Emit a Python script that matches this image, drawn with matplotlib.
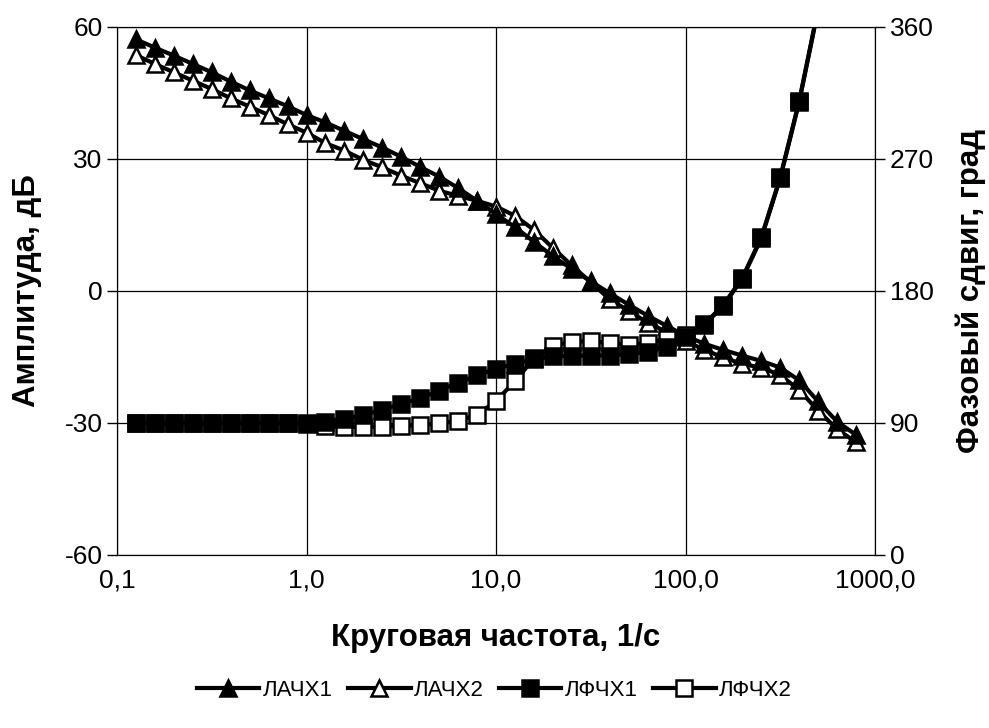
import numpy as np
import matplotlib
matplotlib.use("Agg")
import matplotlib.pyplot as plt
from matplotlib.ticker import FixedLocator, FixedFormatter, NullLocator

plt.rcParams['font.family'] = ['Liberation Sans', 'DejaVu Sans']

# frequencies: 0.1-decade steps from 10^-0.9 to 10^2.9
freq = [0.1259, 0.1585, 0.1995, 0.2512, 0.3162, 0.3981, 0.5012, 0.6310, 0.7943,
        1.0, 1.259, 1.585, 1.995, 2.512, 3.162, 3.981, 5.012, 6.310, 7.943,
        10.0, 12.59, 15.85, 19.95, 25.12, 31.62, 39.81, 50.12, 63.10, 79.43,
        100.0, 125.9, 158.5, 199.5, 251.2, 316.2, 398.1, 501.2, 631.0, 794.3]

lachh1 = [57.2, 55.3, 53.5, 51.6, 49.7, 47.6, 45.6, 43.8, 42.0,
          40.0, 38.3, 36.4, 34.5, 32.6, 30.5, 28.2, 26.0, 23.4, 20.5,
          17.5, 14.5, 11.2, 7.9, 5.0, 2.2, -0.5, -3.1, -5.6, -7.9,
          -10.2, -12.0, -13.4, -14.7, -15.9, -17.4, -20.3, -25.1, -29.7, -32.7]

lachh2 = [53.6, 51.6, 49.7, 47.8, 45.9, 43.8, 41.9, 40.0, 37.9,
          36.0, 33.6, 31.9, 29.8, 28.1, 26.2, 24.5, 22.8, 21.6, 20.5,
          19.2, 17.1, 13.9, 9.8, 5.8, 2.0, -1.9, -4.5, -7.2, -9.3,
          -11.3, -13.4, -15.1, -16.6, -17.4, -19.1, -22.5, -27.2, -31.4, -34.4]

lfchh1 = [90, 90, 90, 90, 90, 90, 90, 90, 90,
          90.2, 91, 93, 95.5, 99, 103, 107, 112, 117.5, 122.5,
          127, 130.5, 133.3, 135.5, 135.8, 136, 136, 136.8, 138.5, 142,
          148.5, 157, 170, 188.5, 216, 257, 309, 372, np.nan, np.nan]

lfchh2 = [90, 90, 90, 90, 90, 90, 90, 90, 90,
          89.3, 88, 87.5, 87.4, 87.6, 88, 88.5, 89.8, 91.5, 95.5,
          105, 118.5, 134, 142.5, 145.5, 145.7, 144.5, 143.5, 144.5, 147.5,
          150, 157.5, 170.5, 189, 216.5, 257.5, 309.5, 372.5, np.nan, np.nan]

xticks = [0.1, 1, 10, 100, 1000]
xtick_labels = ["0,1", "1,0", "10,0", "100,0", "1000,0"]
yticks_left = [-60, -30, 0, 30, 60]
yticks_right = [0, 90, 180, 270, 360]

W, H = 989, 728
fig = plt.figure(figsize=(W / 100, H / 100), dpi=100)
ax = fig.add_axes([117 / W, 1 - 555 / H, 758 / W, 528 / H])
ax2 = ax.twinx()

lw = 3.0
ms_t = 12
ms_s = 11
mew = 1.8
# hollow series drawn first, filled series on top (as in the reference)
l2, = ax.plot(freq, lachh2, color='black', lw=lw, marker='^', ms=ms_t,
              mfc='white', mec='black', mew=mew, label='ЛАЧХ2', zorder=2)
l1, = ax.plot(freq, lachh1, color='black', lw=lw, marker='^', ms=ms_t,
              mfc='black', mec='black', mew=mew, label='ЛАЧХ1', zorder=3)
l4, = ax2.plot(freq, lfchh2, color='black', lw=lw, marker='s', ms=ms_s,
               mfc='white', mec='black', mew=mew, label='ЛФЧХ2', zorder=2)
l3, = ax2.plot(freq, lfchh1, color='black', lw=lw, marker='s', ms=ms_s,
               mfc='black', mec='black', mew=mew, label='ЛФЧХ1', zorder=3)

ax.set_xscale('log')
ax.set_xlim(0.1, 1000)
ax.set_ylim(-60, 60)
ax2.set_ylim(0, 360)

ax.xaxis.set_major_locator(FixedLocator(xticks))
ax.xaxis.set_major_formatter(FixedFormatter(xtick_labels))
ax.xaxis.set_minor_locator(NullLocator())
ax.set_yticks(yticks_left)
ax.set_yticklabels([str(v) for v in yticks_left])
ax2.set_yticks(yticks_right)
ax2.set_yticklabels([str(v) for v in yticks_right])

fs = 19
fl = 22.5
ax.tick_params(axis='both', labelsize=fs, direction='out', length=7, width=1, color='black')
ax2.tick_params(axis='y', labelsize=fs, direction='out', length=7, width=1, color='black')
ax.tick_params(axis='x', length=0, pad=10)

ax.grid(True, which='major', color='black', lw=0.9)
ax.set_axisbelow(True)
for sp in ax.spines.values():
    sp.set_color('black')
for sp in ax2.spines.values():
    sp.set_color('black')

ax.set_xlabel('Круговая частота, 1/с', fontsize=fl, fontweight='bold', labelpad=22)
ax.set_ylabel('Амплитуда, дБ', fontsize=fl, fontweight='bold', labelpad=16)
ax2.set_ylabel('Фазовый сдвиг, град', fontsize=fl, fontweight='bold', rotation=90, labelpad=16)

fig.legend(handles=[l1, l2, l3, l4], loc='center', bbox_to_anchor=(0.5, 1 - 690 / H),
           ncol=4, frameon=False, fontsize=16, handlelength=2.8, handletextpad=0.15,
           columnspacing=0.7)

fig.savefig('out.png', dpi=100)
